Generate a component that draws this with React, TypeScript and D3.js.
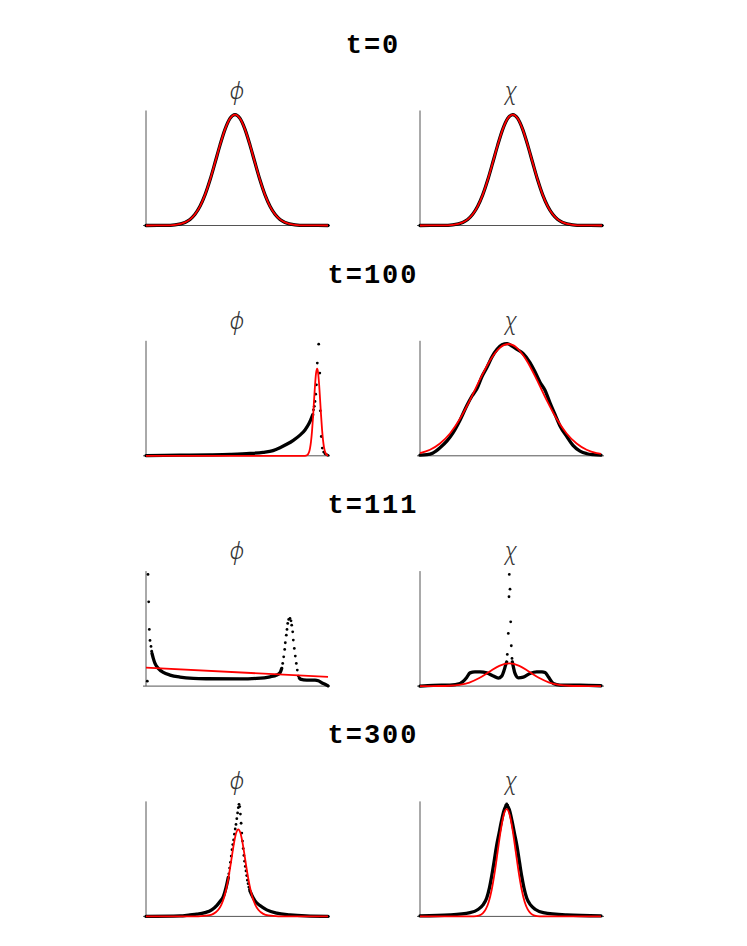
import React from 'react';
import * as d3 from 'd3';

type P = [number, number];

const titles = ['t=0', 't=100', 't=111', 't=300'];
const fieldLabels = ['\u03D5', '\u03C7'];

// ---- t = 0 (numerical and analytic coincide)
const phi0: P[] = [[0,0],[19,0.001],[29,0.006],[39,0.027],[44,0.053],[49,0.098],[54,0.167],[59,0.266],[64,0.395],[69,0.545],[74,0.699],[79,0.836],[84,0.931],[89,0.965],[94,0.931],[99,0.836],[104,0.699],[109,0.545],[114,0.395],[119,0.266],[124,0.167],[129,0.098],[134,0.053],[139,0.027],[149,0.006],[159,0.001],[182,0]];
const chi0: P[] = [[0,0],[22.7,0.001],[32.7,0.006],[42.7,0.027],[47.7,0.053],[52.7,0.098],[57.7,0.167],[62.7,0.266],[67.7,0.395],[72.7,0.545],[77.7,0.699],[82.7,0.836],[87.7,0.931],[92.7,0.965],[97.7,0.931],[102.7,0.836],[107.7,0.699],[112.7,0.545],[117.7,0.395],[122.7,0.266],[127.7,0.167],[132.7,0.098],[137.7,0.053],[142.7,0.027],[152.7,0.006],[162.7,0.001],[182,0]];

// ---- t = 100
const phi100Line: P[] = [[0,0.002],[34,0.005],[64,0.008],[84,0.012],[104,0.02],[117,0.03],[127,0.045],[134,0.07],[140.7,0.1],[147.3,0.135],[154,0.18],[159,0.225],[162.3,0.27],[164.7,0.313],[166.7,0.357]];
const phi100Dots: P[] = [[167.5,0.4],[168.3,0.43],[169,0.473],[169.7,0.536],[170.4,0.617],[171.3,0.806],[172.7,0.971],[173.8,0.719],[174.3,0.391],[175.3,0.168],[176.3,0.067],[177.7,0.032],[179,0.017],[180.7,0.009],[182,0.004]];
const phi100Red: P[] = [[0,0],[100,0],[159,0],[161,0.005],[163,0.031],[164,0.065],[165,0.123],[166,0.213],[167,0.333],[168,0.474],[169,0.61],[170,0.714],[171.1,0.757],[172,0.728],[173,0.635],[174,0.502],[175,0.36],[176,0.234],[177,0.138],[178,0.074],[180,0.016],[182,0.002]];
const chi100Line: P[] = [[0,0.006],[7,0.01],[13,0.025],[20,0.07],[27,0.13],[33,0.2],[40,0.31],[47,0.44],[52,0.52],[57,0.585],[62,0.69],[67,0.77],[72,0.86],[77,0.925],[82,0.965],[87,0.975],[92,0.955],[97,0.925],[103,0.89],[110,0.81],[115,0.73],[120,0.64],[125,0.57],[130,0.46],[135,0.36],[140,0.26],[147,0.165],[153,0.09],[160,0.04],[167,0.018],[173,0.01],[181,0.006]];
const chi100Red: P[] = [[0,0.024],[10,0.053],[20,0.107],[30,0.194],[40,0.322],[50,0.485],[60,0.665],[70,0.829],[80,0.941],[88.3,0.972],[96.6,0.941],[106.6,0.829],[116.6,0.665],[126.6,0.485],[136.6,0.322],[146.6,0.194],[156.6,0.107],[166.6,0.053],[176.6,0.024],[181,0.017]];

// ---- t = 111
const phi111LineA: P[] = [[6,0.284],[7.3,0.241],[9,0.197],[12.3,0.154],[17.3,0.119],[24,0.096],[34,0.078],[47.3,0.067],[60.7,0.064],[94,0.062],[110.7,0.067],[124,0.081],[130.7,0.096],[134,0.116],[135.7,0.154]];
const phi111LineB: P[] = [[153.3,0.07],[154.3,0.061],[160.7,0.052],[169,0.052],[172.3,0.046],[175.7,0.029],[180.7,0.009],[182,0.002]];
const phi111Dots: P[] = [[1.3,0.043],[2,0.971],[2.7,0.733],[3.3,0.493],[4,0.397],[5,0.345],[5.7,0.304],[136.7,0.197],[137.7,0.255],[138.7,0.319],[139.3,0.377],[140.3,0.443],[141,0.493],[141.7,0.545],[142.7,0.58],[144,0.588],[145,0.568],[145.7,0.53],[146.7,0.472],[147.3,0.4],[148.3,0.328],[149.3,0.261],[150.3,0.197],[151.3,0.139],[152.3,0.087]];
const phi111Red: P[] = [[0,0.16],[182,0.08]];
const chi111LineA: P[] = [[0,0],[13.3,0.006],[30,0.009],[40,0.023],[43,0.04],[46.7,0.075],[50,0.115],[55,0.124],[60,0.124],[66.7,0.115],[73.3,0.088],[78.3,0.07],[81.7,0.087],[84,0.135],[85.7,0.185],[86.7,0.21]];
const chi111LineB: P[] = [[92.3,0.21],[93.3,0.17],[95,0.11],[98.3,0.072],[103.3,0.078],[110,0.11],[116.7,0.124],[122,0.124],[125,0.118],[128.3,0.081],[133.3,0.023],[140,0.009],[160,0.008],[181,0.003]];
const chi111Dots: P[] = [[87.3,0.275],[88.3,0.458],[89,0.777],[89.3,0.971],[90,0.843],[90.7,0.559],[91.3,0.351],[92,0.241]];
const chi111Red: P[] = [[0,0],[19.3,0.001],[29.3,0.003],[39.3,0.011],[49.3,0.031],[59.3,0.07],[69.3,0.124],[79.3,0.176],[89.3,0.197],[99.3,0.176],[109.3,0.124],[119.3,0.07],[129.3,0.031],[139.3,0.011],[149.3,0.003],[159.3,0.001],[181,0]];

// ---- t = 300
const phi300LineA: P[] = [[0,0],[34,0.004],[44,0.013],[50.7,0.019],[59,0.033],[65.7,0.057],[70.7,0.094],[74,0.129],[77.3,0.172],[79,0.216],[80.7,0.274],[82.3,0.34]];
const phi300LineB: P[] = [[104,0.22],[105.7,0.187],[109,0.135],[114,0.094],[120.7,0.057],[130.7,0.028],[144,0.013],[160,0.004],[182,0]];
const phi300Dots: P[] = [[82.8,0.37],[83.6,0.42],[84.4,0.47],[85.2,0.525],[86,0.58],[86.8,0.625],[87.6,0.665],[88.4,0.715],[89.2,0.76],[90,0.8],[90.8,0.85],[91.6,0.9],[92.3,0.945],[93,0.975],[93.7,0.955],[94.4,0.89],[95.1,0.81],[95.8,0.725],[96.5,0.655],[97.2,0.59],[97.9,0.53],[98.6,0.48],[99.3,0.435],[100,0.395],[100.7,0.355],[101.4,0.315],[102.1,0.285],[102.8,0.255],[103.5,0.235]];
const phi300Red: P[] = [[0,0],[52.3,0.001],[62.3,0.008],[67.3,0.022],[72.3,0.058],[75.3,0.101],[78.3,0.171],[80.3,0.24],[82.3,0.328],[84.3,0.432],[86.3,0.546],[88.3,0.652],[90.3,0.729],[92.3,0.757],[94.3,0.729],[96.3,0.652],[98.3,0.546],[100.3,0.432],[102.3,0.328],[104.3,0.24],[106.3,0.171],[109.3,0.101],[112.3,0.058],[117.3,0.022],[122.3,0.008],[132.3,0.001],[182,0]];
const chi300Line: P[] = [[0,0.004],[30,0.012],[50,0.032],[58,0.06],[63,0.1],[66.7,0.16],[69.5,0.25],[71.7,0.35],[74,0.47],[76.5,0.61],[79,0.72],[81.5,0.83],[84,0.92],[86.7,0.965],[89.3,0.93],[92,0.83],[94.5,0.72],[97,0.61],[99.5,0.47],[101.7,0.35],[103.9,0.25],[106.7,0.16],[110.5,0.1],[115.5,0.06],[123.3,0.032],[146.7,0.012],[181,0.004]];
const chi300Dots: P[] = [[85.8,0.968],[86.7,0.978],[87.6,0.968]];
const chi300Red: P[] = [[0,0],[46.7,0],[53.7,0.001],[58.7,0.007],[62.7,0.027],[65.7,0.061],[68.7,0.126],[71.7,0.232],[74.7,0.383],[77.7,0.565],[80.7,0.746],[83.7,0.882],[86.7,0.932],[89.7,0.882],[92.7,0.746],[95.7,0.565],[98.7,0.383],[101.7,0.232],[104.7,0.126],[107.7,0.061],[110.7,0.027],[114.7,0.007],[119.7,0.001],[126.7,0],[181,0]];

interface Series { lines: P[][]; dots: P[]; red: P[]; }

const rows: { title: string; phi: Series; chi: Series }[] = [
  { title: titles[0], phi: { lines: [phi0], dots: [], red: phi0 }, chi: { lines: [chi0], dots: [], red: chi0 } },
  { title: titles[1], phi: { lines: [phi100Line], dots: phi100Dots, red: phi100Red }, chi: { lines: [chi100Line], dots: [], red: chi100Red } },
  { title: titles[2], phi: { lines: [phi111LineA, phi111LineB], dots: phi111Dots, red: phi111Red }, chi: { lines: [chi111LineA, chi111LineB], dots: chi111Dots, red: chi111Red } },
  { title: titles[3], phi: { lines: [phi300LineA, phi300LineB], dots: phi300Dots, red: phi300Red }, chi: { lines: [chi300Line], dots: chi300Dots, red: chi300Red } },
];

const W = 747;
const H = 946;
const panelW = 182;
const panelH = 115;
const leftX = 146;
const rightX = 420;
const firstBottom = 225.5;
const rowStep = 230.3;

function Panel({ x0, bottom, label, s }: { x0: number; bottom: number; label: string; s: Series }) {
  const xs = d3.scaleLinear().domain([0, panelW]).range([x0, x0 + panelW]);
  const ys = d3.scaleLinear().domain([0, 1]).range([bottom, bottom - panelH]);
  const line = d3.line<P>().x(d => xs(d[0])).y(d => ys(d[1])).curve(d3.curveMonotoneX);
  return (
    <g>
      <line x1={xs(0)} x2={xs(0)} y1={ys(0)} y2={ys(1)} stroke="#555" strokeWidth={1} />
      <line x1={xs(0) - 3} x2={xs(panelW) + 2} y1={ys(0)} y2={ys(0)} stroke="#555" strokeWidth={1} />
      <text x={x0 + 91} y={bottom - 127} textAnchor="middle" fontFamily="'Noto Sans', 'DejaVu Sans', sans-serif" fontStyle="italic" fontWeight={300} fontSize={23} fill="#333">{label}</text>
      {s.lines.map((l, i) => (
        <path key={i} d={line(l) || ''} fill="none" stroke="#000" strokeWidth={3.3} strokeLinejoin="round" strokeLinecap="round" />
      ))}
      {s.dots.map((p, i) => (
        <circle key={i} cx={xs(p[0])} cy={ys(p[1])} r={1.4} fill="#000" />
      ))}
      <path d={line(s.red) || ''} fill="none" stroke="#ff0000" strokeWidth={1.8} />
    </g>
  );
}

export default function App() {
  return (
    <svg width={W} height={H} style={{ position: 'absolute', left: 0, top: 0, background: '#fff' }}>
      {rows.map((r, i) => {
        const bottom = firstBottom + i * rowStep;
        return (
          <g key={i}>
            <text x={373} y={bottom - 173} textAnchor="middle" fontFamily="'Liberation Mono', monospace" fontWeight="bold" fontSize={27} letterSpacing={2} fill="#000">{r.title}</text>
            <Panel x0={leftX} bottom={bottom} label={fieldLabels[0]} s={r.phi} />
            <Panel x0={rightX} bottom={bottom} label={fieldLabels[1]} s={r.chi} />
          </g>
        );
      })}
    </svg>
  );
}
